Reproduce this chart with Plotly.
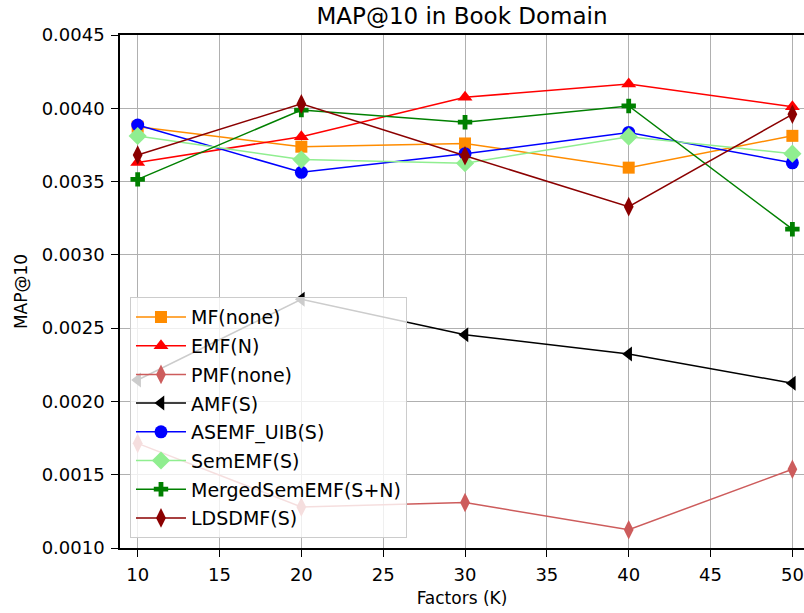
import plotly.graph_objects as go

factors = [10, 20, 30, 40, 50]
mf = [0.003874, 0.003738, 0.003760, 0.003595, 0.003812]
emf = [0.003630, 0.003806, 0.004075, 0.004166, 0.004010]
pmf = [0.001714, 0.001280, 0.001310, 0.001125, 0.001537]
amf = [0.002146, 0.002697, 0.002455, 0.002324, 0.002124]
asemf = [0.003886, 0.003563, 0.003690, 0.003835, 0.003628]
semefm = [0.003811, 0.003650, 0.003625, 0.003806, 0.003690]
merged = [0.003515, 0.003988, 0.003905, 0.004016, 0.003175]
ldsdmf = [0.003681, 0.004030, 0.003676, 0.003329, 0.003959]

series = [
    ("MF(none)", mf, "#FF8C00", "square", 12),
    ("EMF(N)", emf, "#FF0000", "triangle-up", 13),
    ("PMF(none)", pmf, "#CD5C5C", "diamond-tall", 14),
    ("AMF(S)", amf, "#000000", "triangle-left", 13),
    ("ASEMF_UIB(S)", asemf, "#0000FF", "circle", 13),
    ("SemEMF(S)", semefm, "#90EE90", "diamond", 14),
    ("MergedSemEMF(S+N)", merged, "#008000", "cross", 12),
    ("LDSDMF(S)", ldsdmf, "#8B0000", "diamond-tall", 14),
]

fig = go.Figure()
for i, (name, vals, col, sym, sz) in enumerate(series):
    fig.add_trace(go.Scatter(
        x=factors, y=vals, name=name, mode="lines+markers",
        legendgroup=f"g{i}",
        line=dict(color=col, width=1.5),
        marker=dict(color=col, symbol=sym, size=sz, line=dict(width=0)),
    ))

font = "DejaVu Sans"
fig.update_layout(
    width=804, height=613,
    margin=dict(l=120, r=0, t=35, b=65),
    paper_bgcolor="white", plot_bgcolor="white",
    font=dict(family=font, size=17, color="black"),
    title=dict(text="MAP@10 in Book Domain", x=(120 + 804) / 2 / 804, xanchor="center",
               y=1 - 16 / 613, yanchor="middle", font=dict(size=23)),
    showlegend=True,
    legend=dict(
        x=0.0146, y=0.489, xanchor="left", yanchor="top",
        bgcolor="rgba(255,255,255,0.8)", bordercolor="#cccccc", borderwidth=1,
        font=dict(family=font, size=19), tracegroupgap=1, itemwidth=50,
    ),
)
fig.update_xaxes(
    range=[8.92, 50.71], tickvals=[10, 15, 20, 25, 30, 35, 40, 45, 50],
    showgrid=True, gridcolor="#b0b0b0", gridwidth=1,
    showline=True, linecolor="black", linewidth=1.5, mirror=True,
    ticks="outside", ticklen=7, tickcolor="black", ticklabelstandoff=3,
    tickfont=dict(size=18),
    zeroline=False,
    title=dict(text="Factors (K)", font=dict(size=17), standoff=8),
)
fig.update_yaxes(
    range=[0.001, 0.0045], tickvals=[0.001, 0.0015, 0.002, 0.0025, 0.003, 0.0035, 0.004, 0.0045],
    tickformat=".4f",
    showgrid=True, gridcolor="#b0b0b0", gridwidth=1,
    showline=True, linecolor="black", linewidth=1.5,
    ticks="outside", ticklen=7, tickcolor="black", ticklabelstandoff=3,
    tickfont=dict(size=18),
    zeroline=False,
    title=dict(text="MAP@10", font=dict(size=17), standoff=10),
)
fig.write_html("out.html")
